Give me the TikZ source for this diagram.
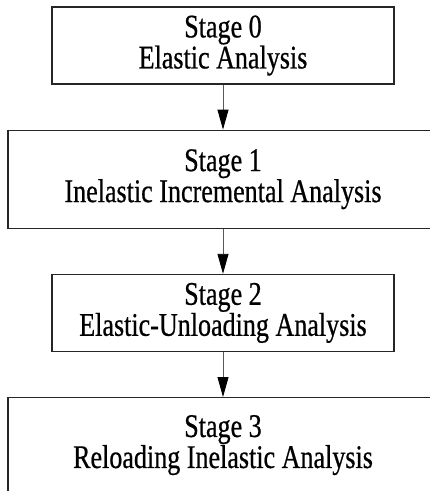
\documentclass[tikz,border=0pt]{standalone}
\usepackage{fontspec}
\setmainfont{Liberation Serif}[FakeStretch=0.79, FakeBold=0.6]
\usetikzlibrary{positioning,arrows.meta}

\begin{document}
\begin{tikzpicture}[
            x=1pt, y=1pt,
            node distance=45pt,
            stagebox/.style={draw=black!85, line width=1.2pt, inner sep=0pt,
                align=center, font=\fontsize{33}{29}\selectfont},
            narrowbox/.style={stagebox, minimum width=342pt, minimum height=77pt},
            widebox/.style={stagebox, minimum width=430pt},
            flow/.style={draw=black!65, line width=0.9pt,
                -{Triangle[length=20pt, width=11pt, black]}}
        ]
            \useasboundingbox (0,0) rectangle (430,-491);
            \clip (0,0) rectangle (430,-491);

            % 四个阶段
            \node[narrowbox] (s0) at (223,-45.5) {Stage 0\\Elastic Analysis};
            \node[widebox, minimum height=98pt, below=of s0] (s1)
                {Stage 1\\Inelastic Incremental Analysis};
            \node[narrowbox, below=of s1] (s2) {Stage 2\\Elastic-Unloading Analysis};
            \node[widebox, minimum height=95pt, below=of s2] (s3)
                {Stage 3\\Reloading Inelastic Analysis};

            % 箭头
            \draw[flow] (s0) -- (s1);
            \draw[flow] (s1) -- (s2);
            \draw[flow] (s2) -- (s3);

        \end{tikzpicture}
\end{document}
